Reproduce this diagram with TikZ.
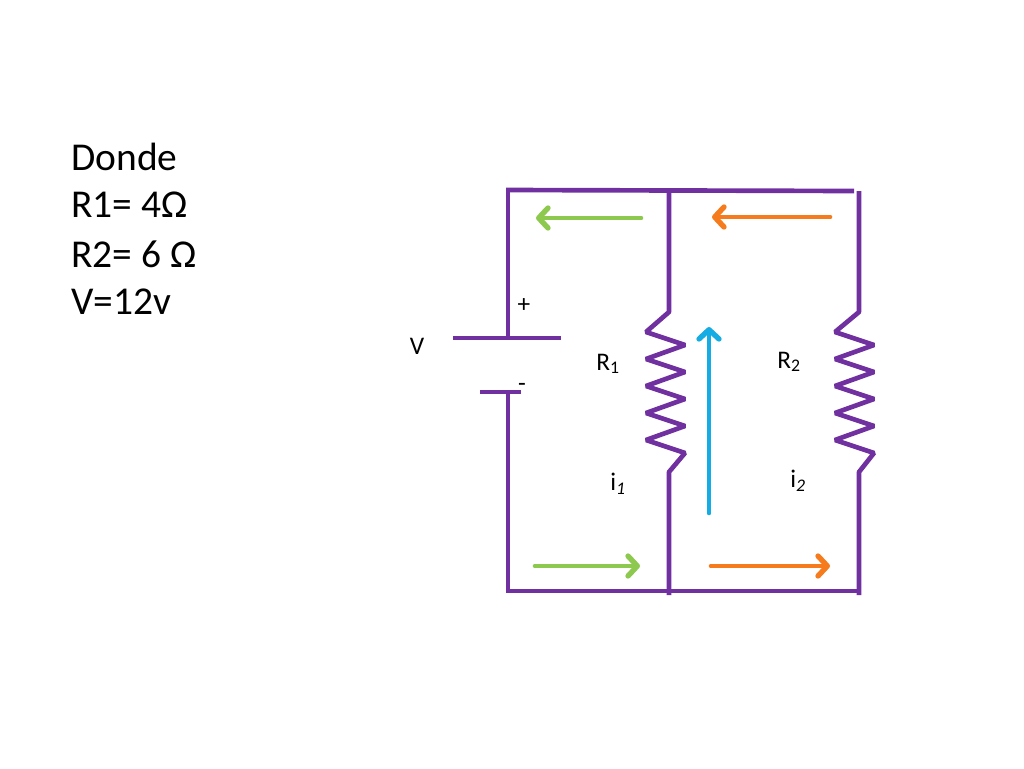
\documentclass[tikz,border=0pt]{standalone}
\usepackage{fontspec}
\setmainfont{Carlito}
\usetikzlibrary{arrows.meta}
\definecolor{wirepurple}{HTML}{7030A0}
\definecolor{arrgreen}{HTML}{8DC84F}
\definecolor{arrorange}{HTML}{F57B1C}
\definecolor{arrblue}{HTML}{14ACE3}
\tikzset{
  wire/.style={draw=wirepurple,line width=3.5pt,line cap=butt,line join=bevel},
  flow/.style={line width=3.5pt,line cap=round,-{Straight Barb[length=7pt,width=15pt,round,line width=4pt]}},
  small/.style={font=\fontsize{19}{23}\selectfont,text=black,inner sep=0pt},
  bigtext/.style={font=\fontsize{29.6}{36}\selectfont,text=black,inner sep=0pt,anchor=west}
}
\begin{document}
\begin{tikzpicture}[x=0.75pt,y=-0.75pt]
\useasboundingbox (0,0) rectangle (1024,768);
% junctions
\coordinate (tl) at (508,190);
\coordinate (tm) at (669,190);
\coordinate (tr) at (854,191);
\coordinate (rt) at (859,191);
\coordinate (bl) at (508,591);
\coordinate (bm) at (669,595);
\coordinate (br) at (857,591);
\coordinate (rb) at (859,595);
\coordinate (plusw) at (508,338);
\coordinate (pluss) at (453,338);
\coordinate (pluse) at (561,338);
\coordinate (minw) at (508,392);
\coordinate (mins) at (480,392);
\coordinate (mine) at (521,392);
% wires
\draw[wire] (506,190) -- (tr);
\draw[wire] (506,591) -- (br);
\draw[wire] (tl) -- (plusw);
\draw[wire] (pluss) -- (pluse);
\draw[wire] (mins) -- (mine);
\draw[wire] (minw) -- (bl);
% resistors
\draw[wire] (tm) -- (669,312) -- (646,332) -- (685,345) -- (646,359) -- (685,372) -- (646,386)
  -- (685,399) -- (646,413) -- (685,426) -- (646,440) -- (685,453) -- (669,472) -- (bm);
\draw[wire] (rt) -- (859,312) -- (835,332) -- (874,345) -- (835,359) -- (874,372) -- (835,386)
  -- (874,399) -- (835,413) -- (874,426) -- (835,440) -- (874,453) -- (859,472) -- (rb);
% current arrows
\coordinate (ga1) at (641,218); \coordinate (ga2) at (536,218);
\coordinate (oa1) at (830,217); \coordinate (oa2) at (712,217);
\coordinate (gb1) at (535,566); \coordinate (gb2) at (640,566);
\coordinate (ob1) at (711,566); \coordinate (ob2) at (830,566);
\coordinate (ba1) at (709,513); \coordinate (ba2) at (709,327);
\draw[flow,arrgreen] (ga1) -- (ga2);
\draw[flow,arrorange] (oa1) -- (oa2);
\draw[flow,arrgreen] (gb1) -- (gb2);
\draw[flow,arrorange] (ob1) -- (ob2);
\draw[flow,arrblue] (ba1) -- (ba2);
% labels
\node[bigtext] (t1) at (71,157) {Donde};
\node[bigtext] (t2) at (71,205) {R1= 4Ω};
\node[bigtext] (t3) at (71,254) {R2= 6 Ω};
\node[bigtext] (t4) at (71,302) {V=12v};
\node[small] (lv) at (417,346) {V};
\node[small] (lp) at (524,306) {+};
\node[small] (lm) at (522,387) {-};
\node[small] (lr1) at (608,364) {R\textsubscript{1}};
\node[small] (lr2) at (789,362) {R\textsubscript{2}};
\node[small] (li1) at (618,484) {i\textsubscript{\itshape 1}};
\node[small] (li2) at (798,481) {i\textsubscript{\itshape 2}};
\end{tikzpicture}
\end{document}
